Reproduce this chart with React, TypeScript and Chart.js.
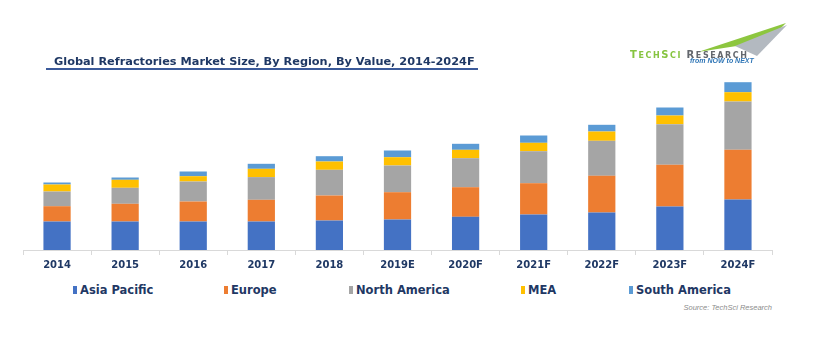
import React, { useEffect, useRef } from "react";
import { Chart, registerables } from "chart.js";

Chart.register(...registerables);

const categories = ["2014", "2015", "2016", "2017", "2018", "2019E", "2020F", "2021F", "2022F", "2023F", "2024F"];
const asiaPacific = [28.5, 28.5, 28.5, 28.5, 29.5, 30.5, 33.2, 35.5, 37.5, 43.5, 50.5];
const europe = [15.3, 17.7, 20, 21.7, 25, 27.3, 29.6, 31.3, 36.7, 41.7, 49.7];
const northAmerica = [14.7, 16, 20, 22.7, 25.7, 26.7, 29, 32, 35, 40.6, 48.3];
const mea = [7, 8, 5.3, 8.3, 8.3, 8.3, 8.4, 8.4, 9.3, 8.7, 9.3];
const southAmerica = [2, 2.3, 4.7, 5, 5.3, 6.7, 6, 7.3, 6.7, 8, 10];

const seriesNames = ["Asia Pacific", "Europe", "North America", "MEA", "South America"];
const seriesColors = ["#4472C4", "#ED7D31", "#A5A5A5", "#FFC000", "#5B9BD5"];
const legendX = [73, 224, 349, 521, 629];

const NAVY = "#1F3864";
const FONT = "'DejaVu Sans', Verdana, sans-serif";

export default function App() {
  const canvasRef = useRef<HTMLCanvasElement | null>(null);

  useEffect(() => {
    if (!canvasRef.current) return;
    const values = [asiaPacific, europe, northAmerica, mea, southAmerica];
    const chart = new Chart(canvasRef.current, {
      type: "bar",
      data: {
        labels: categories,
        datasets: values.map((v, i) => ({
          label: seriesNames[i],
          data: v,
          backgroundColor: seriesColors[i],
          borderWidth: 0,
          barPercentage: 0.4,
          categoryPercentage: 1,
        })),
      },
      options: {
        animation: false,
        responsive: false,
        maintainAspectRatio: false,
        layout: { padding: { left: 23, right: 48, top: 70, bottom: 0 } },
        plugins: {
          legend: { display: false },
          tooltip: { enabled: false },
          title: { display: false },
        },
        scales: {
          x: {
            stacked: true,
            grid: {
              display: true,
              offset: true,
              drawOnChartArea: false,
              drawTicks: true,
              tickLength: 5,
              color: "#D9D9D9",
            },
            border: { display: true, color: "#D9D9D9", width: 1 },
            ticks: {
              color: NAVY,
              font: { family: FONT, size: 10, weight: "bold" },
              padding: 4,
              maxRotation: 0,
              autoSkip: false,
            },
          },
          y: {
            stacked: true,
            display: false,
            min: 0,
            max: 180,
          },
        },
      },
    });
    return () => chart.destroy();
  }, []);

  const big = { fontSize: 10 };
  const small = { fontSize: 8 };

  return (
    <div style={{ position: "fixed", left: 0, top: 0, width: 820, height: 350, background: "#fff", overflow: "hidden", fontFamily: FONT }}>
      <canvas ref={canvasRef} width={820} height={275} style={{ position: "absolute", left: 0, top: 0, width: 820, height: 275 }} />
      <div
        style={{
          position: "absolute",
          left: 46,
          top: 56,
          fontSize: 11.3,
          fontWeight: "bold",
          color: NAVY,
          whiteSpace: "pre",
          lineHeight: "12px",
          borderBottom: "2px solid #3B5A9A",
          paddingLeft: 8,
          paddingRight: 3,
        }}
      >
        Global Refractories Market Size, By Region, By Value, 2014-2024F
      </div>
      <svg style={{ position: "absolute", left: 0, top: 0 }} width={820} height={100}>
        <polygon points="698,52 786,23 776,33 743,45" fill="#8DC63F" />
        <polygon points="735,46 787,25 757,56" fill="#B3B9C0" />
      </svg>
      <div
        style={{
          position: "absolute",
          left: 630,
          top: 47,
          fontWeight: "bold",
          letterSpacing: 1.6,
          whiteSpace: "nowrap",
          lineHeight: "11px",
        }}
      >
        <span style={{ color: "#86C440" }}>
          <span style={big}>T</span>
          <span style={small}>ECH</span>
          <span style={big}>S</span>
          <span style={small}>CI </span>
        </span>
        <span style={{ color: "#63676D" }}>
          <span style={big}>R</span>
          <span style={small}>ESEARCH</span>
        </span>
      </div>
      <div
        style={{
          position: "absolute",
          left: 690,
          top: 57,
          fontSize: 7,
          fontStyle: "italic",
          fontWeight: "bold",
          color: "#2E75B6",
          whiteSpace: "nowrap",
          lineHeight: "8px",
          fontFamily: "'Liberation Sans', Arial, sans-serif",
        }}
      >
        from NOW to NEXT
      </div>
      {seriesNames.map((name, i) => (
        <div key={name} style={{ position: "absolute", left: legendX[i], top: 283, height: 14, display: "flex", alignItems: "center", whiteSpace: "nowrap" }}>
          <span style={{ display: "inline-block", width: 4, height: 8, background: seriesColors[i], marginRight: 3 }} />
          <span style={{ fontSize: 11.5, fontWeight: "bold", color: NAVY }}>{name}</span>
        </div>
      ))}
      <div
        style={{
          position: "absolute",
          right: 48,
          top: 303,
          fontSize: 7.5,
          fontStyle: "italic",
          color: "#8C8C8C",
          whiteSpace: "nowrap",
          fontFamily: "'Liberation Sans', Arial, sans-serif",
        }}
      >
        Source: TechSci Research
      </div>
    </div>
  );
}
